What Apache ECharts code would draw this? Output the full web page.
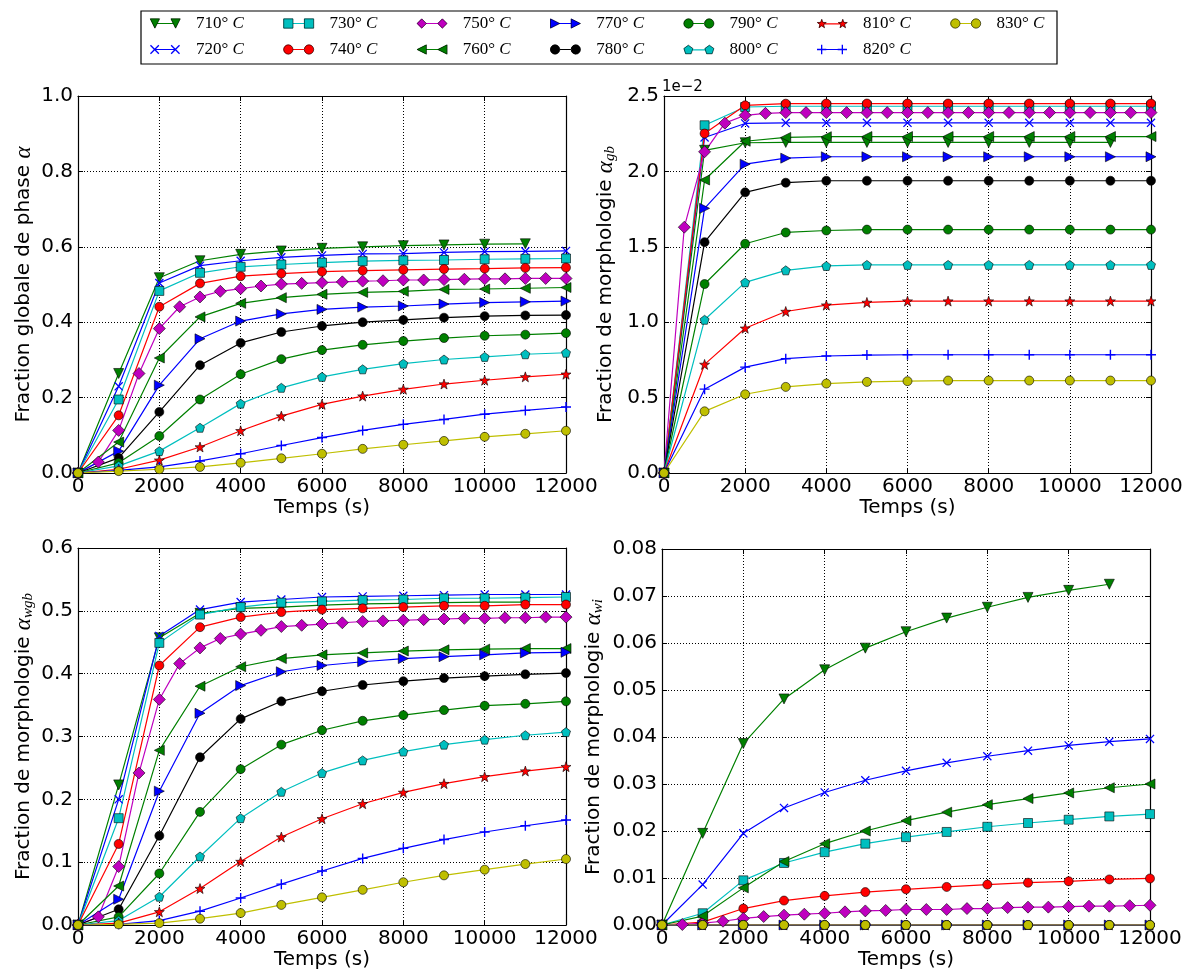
<!DOCTYPE html>
<html><head><meta charset="utf-8">
<script src="https://cdn.jsdelivr.net/npm/echarts@6/dist/echarts.min.js"></script>
<style>html,body{margin:0;padding:0;background:#fff}#c{width:1191px;height:973px}</style>
</head><body><div id="c"></div>
<script>
// ---------------- DATA ----------------
const temperatures = ['710°C','720°C','730°C','740°C','750°C','760°C','770°C','780°C','790°C','800°C','810°C','820°C','830°C'];
const timeFull = [0,1000,2000,3000,4000,5000,6000,7000,8000,9000,10000,11000,12000];
const time710  = [0,1000,2000,3000,4000,5000,6000,7000,8000,9000,10000,11000];
const time750  = [0,500,1000,1500,2000,2500,3000,3500,4000,4500,5000,5500,6000,6500,7000,7500,8000,8500,9000,9500,10000,10500,11000,11500,12000];
const xTicks = [0,2000,4000,6000,8000,10000,12000];

// Fraction globale de phase alpha (one row per temperature)
const alphaGlobal = [
  [0,0.264,0.518,0.563,0.580,0.589,0.596,0.600,0.603,0.605,0.607,0.608],
  [0,0.230,0.504,0.550,0.563,0.572,0.577,0.581,0.582,0.585,0.587,0.588,0.589],
  [0,0.195,0.483,0.531,0.547,0.553,0.558,0.562,0.564,0.565,0.567,0.568,0.569],
  [0,0.153,0.441,0.503,0.522,0.529,0.534,0.537,0.539,0.541,0.542,0.544,0.545],
  [0,0.029,0.113,0.264,0.383,0.441,0.467,0.482,0.489,0.496,0.501,0.503,0.505,0.507,0.509,0.510,0.512,0.512,0.513,0.514,0.515,0.515,0.516,0.516,0.516],
  [0,0.082,0.305,0.414,0.450,0.465,0.474,0.479,0.482,0.487,0.488,0.490,0.492],
  [0,0.058,0.233,0.356,0.403,0.422,0.434,0.440,0.443,0.448,0.452,0.454,0.456],
  [0,0.040,0.162,0.286,0.345,0.374,0.390,0.400,0.406,0.412,0.416,0.418,0.419],
  [0,0.027,0.098,0.195,0.262,0.302,0.326,0.340,0.350,0.358,0.364,0.367,0.371],
  [0,0.019,0.058,0.120,0.184,0.226,0.255,0.275,0.290,0.301,0.308,0.315,0.319],
  [0,0.010,0.034,0.069,0.112,0.151,0.182,0.204,0.222,0.236,0.246,0.255,0.262],
  [0,0.007,0.016,0.032,0.051,0.073,0.094,0.113,0.129,0.142,0.156,0.166,0.175],
  [0,0.005,0.010,0.016,0.027,0.039,0.051,0.064,0.075,0.085,0.096,0.104,0.112]
];
// Fraction de morphologie alpha_gb
const alphaGb = [
  [0,0.02140,0.02190,0.02192,0.02192,0.02192,0.02192,0.02192,0.02192,0.02192,0.02192,0.02192],
  [0,0.02225,0.02318,0.02322,0.02322,0.02322,0.02322,0.02322,0.02322,0.02322,0.02322,0.02322,0.02322],
  [0,0.02306,0.02427,0.02432,0.02432,0.02432,0.02432,0.02432,0.02432,0.02432,0.02432,0.02432,0.02432],
  [0,0.02251,0.02438,0.02449,0.02450,0.02450,0.02450,0.02450,0.02450,0.02450,0.02450,0.02450,0.02450],
  [0,0.01630,0.02130,0.02320,0.02372,0.02385,0.02390,0.02390,0.02390,0.02390,0.02390,0.02390,0.02390,0.02390,0.02390,0.02390,0.02390,0.02390,0.02390,0.02390,0.02390,0.02390,0.02390,0.02390,0.02390],
  [0,0.01943,0.02200,0.02225,0.02230,0.02231,0.02231,0.02231,0.02231,0.02231,0.02231,0.02231,0.02231],
  [0,0.01755,0.02048,0.02088,0.02097,0.02097,0.02097,0.02097,0.02097,0.02097,0.02097,0.02097,0.02097],
  [0,0.01531,0.01861,0.01925,0.01938,0.01938,0.01938,0.01938,0.01938,0.01938,0.01938,0.01938,0.01938],
  [0,0.01253,0.01520,0.01595,0.01608,0.01614,0.01614,0.01614,0.01614,0.01614,0.01614,0.01614,0.01614],
  [0,0.01016,0.01264,0.01344,0.01373,0.01380,0.01380,0.01380,0.01380,0.01380,0.01380,0.01380,0.01380],
  [0,0.00720,0.00960,0.01071,0.01113,0.01131,0.01140,0.01140,0.01140,0.01140,0.01140,0.01140,0.01140],
  [0,0.00556,0.00702,0.00758,0.00776,0.00782,0.00784,0.00784,0.00784,0.00784,0.00784,0.00784,0.00784],
  [0,0.00409,0.00522,0.00571,0.00593,0.00604,0.00609,0.00613,0.00613,0.00613,0.00613,0.00613,0.00613]
];
// Fraction de morphologie alpha_wgb
const alphaWgb = [
  [0,0.223,0.457,0.496,0.504,0.506,0.509,0.511,0.512,0.513,0.514,0.514],
  [0,0.200,0.460,0.502,0.514,0.518,0.522,0.523,0.524,0.525,0.526,0.526,0.526],
  [0,0.170,0.449,0.494,0.506,0.513,0.515,0.517,0.518,0.520,0.520,0.521,0.522],
  [0,0.129,0.413,0.474,0.490,0.498,0.502,0.504,0.506,0.508,0.508,0.510,0.510],
  [0,0.013,0.093,0.242,0.359,0.416,0.441,0.456,0.463,0.469,0.475,0.477,0.479,0.481,0.483,0.484,0.485,0.486,0.487,0.488,0.488,0.489,0.489,0.490,0.490],
  [0,0.062,0.278,0.380,0.411,0.424,0.430,0.433,0.436,0.438,0.439,0.440,0.440],
  [0,0.041,0.213,0.337,0.381,0.403,0.413,0.419,0.424,0.427,0.430,0.433,0.434],
  [0,0.025,0.142,0.267,0.328,0.356,0.372,0.382,0.388,0.393,0.396,0.399,0.401],
  [0,0.013,0.082,0.180,0.248,0.287,0.310,0.325,0.334,0.342,0.349,0.352,0.356],
  [0,0.007,0.045,0.109,0.170,0.212,0.242,0.262,0.276,0.287,0.295,0.302,0.307],
  [0,0.003,0.021,0.058,0.101,0.140,0.169,0.193,0.211,0.225,0.236,0.245,0.252],
  [0,0.001,0.007,0.022,0.043,0.065,0.086,0.106,0.122,0.136,0.148,0.158,0.167],
  [0,0.001,0.003,0.010,0.019,0.032,0.044,0.056,0.068,0.079,0.088,0.097,0.105]
];
// Fraction de morphologie alpha_wi
const alphaWi = [
  [0,0.0195,0.0386,0.0481,0.0543,0.0589,0.0624,0.0653,0.0676,0.0697,0.0712,0.0725],
  [0,0.0086,0.0195,0.0249,0.0282,0.0308,0.0328,0.0345,0.0359,0.0371,0.0382,0.0390,0.0396],
  [0,0.0025,0.0095,0.0132,0.0155,0.0173,0.0187,0.0198,0.0209,0.0217,0.0224,0.0231,0.0236],
  [0,0.0006,0.0035,0.0052,0.0062,0.0070,0.0076,0.0081,0.0086,0.0090,0.0093,0.0097,0.0099],
  [0,0.0001,0.0004,0.0008,0.0014,0.0018,0.0021,0.0023,0.0025,0.0028,0.0030,0.0031,0.0033,0.0033,0.0033,0.0035,0.0035,0.0037,0.0038,0.0038,0.0039,0.0040,0.0040,0.0041,0.0042],
  [0,0.0019,0.0079,0.0135,0.0173,0.0200,0.0222,0.0240,0.0256,0.0269,0.0281,0.0292,0.0300],
  [0,0,0,0,0,0,0,0,0,0,0,0,0],
  [0,0,0,0,0,0,0,0,0,0,0,0,0],
  [0,0,0,0,0,0,0,0,0,0,0,0,0],
  [0,0,0,0,0,0,0,0,0,0,0,0,0],
  [0,0,0,0,0,0,0,0,0,0,0,0,0],
  [0,0,0,0,0,0,0,0,0,0,0,0,0],
  [0,0,0,0,0,0,0,0,0,0,0,0,0]
];
const yTicksGlobal = [0,0.2,0.4,0.6,0.8,1.0];
const yTicksGb = [0,0.005,0.010,0.015,0.020,0.025];
const yTicksWgb = [0,0.1,0.2,0.3,0.4,0.5,0.6];
const yTicksWi = [0,0.01,0.02,0.03,0.04,0.05,0.06,0.07,0.08];

// ---------------- STYLE ----------------
const shapeFor = ['triDown','x','square','circle','diamond','triLeft','triRight','circle','circle','pentagon','star','plus','circle'];
const colorFor = ['#008000','#0000ff','#00bfbf','#ff0000','#bf00bf','#008000','#0000ff','#000000','#008000','#00bfbf','#ff0000','#0000ff','#bfbf00'];
const sizeFor = {triDown:10, triLeft:10, triRight:10, square:9, circle:9, diamond:12, pentagon:9, star:10, x:9, plus:10};
const timesFor = i => (i === 0 ? time710 : (i === 4 ? time750 : timeFull));

function shapePath(s, cx, cy, r) {
  const f = n => +n.toFixed(3);
  const P = pts => 'M' + pts.map(p => f(p[0]) + ',' + f(p[1])).join(' L') + ' Z';
  const polar = (ang, rad) => [cx + rad * Math.cos(ang * Math.PI / 180), cy + rad * Math.sin(ang * Math.PI / 180)];
  switch (s) {
    case 'triDown': return P([[cx-r,cy-r],[cx+r,cy-r],[cx,cy+r]]);
    case 'triLeft': return P([[cx-r,cy],[cx+r,cy-r],[cx+r,cy+r]]);
    case 'triRight': return P([[cx+r,cy],[cx-r,cy+r],[cx-r,cy-r]]);
    case 'square': return P([[cx-r,cy-r],[cx+r,cy-r],[cx+r,cy+r],[cx-r,cy+r]]);
    case 'diamond': return P([[cx,cy-r],[cx+r,cy],[cx,cy+r],[cx-r,cy]]);
    case 'circle': return `M${f(cx-r)},${f(cy)} A${f(r)},${f(r)} 0 1,0 ${f(cx+r)},${f(cy)} A${f(r)},${f(r)} 0 1,0 ${f(cx-r)},${f(cy)} Z`;
    case 'pentagon': return P([-90,-18,54,126,198].map(a => polar(a, r)));
    case 'star': {
      const pts = [];
      for (let k = 0; k < 10; k++) pts.push(polar(-90 + k * 36, k % 2 ? r * 0.4 : r));
      return P(pts);
    }
    case 'x': {
      const t = r * 0.2;
      return P([[cx-r,cy-r+t],[cx-r+t,cy-r],[cx+r,cy+r-t],[cx+r-t,cy+r]]) + ' ' +
             P([[cx+r-t,cy-r],[cx+r,cy-r+t],[cx-r+t,cy+r],[cx-r,cy+r-t]]);
    }
    case 'plus': {
      const t = r * 0.14;
      return P([[cx-t,cy-r],[cx+t,cy-r],[cx+t,cy-t],[cx+r,cy-t],[cx+r,cy+t],[cx+t,cy+t],[cx+t,cy+r],[cx-t,cy+r],[cx-t,cy+t],[cx-r,cy+t],[cx-r,cy-t],[cx-t,cy-t]]);
    }
  }
}
const noEdge = s => (s === 'x' || s === 'plus');

const panels = [
  {values: alphaGlobal, ticks: yTicksGlobal, fmt: v => v.toFixed(1), grid: {left:78, top:96, width:488, height:377},
   name: '{t|Fraction globale de phase }{a|α}', nameGap: 42},
  {values: alphaGb, ticks: yTicksGb, fmt: v => (v*100).toFixed(1), grid: {left:664, top:96, width:487, height:377},
   name: '{t|Fraction de morphologie }{a|α}{s|gb}', nameGap: 46},
  {values: alphaWgb, ticks: yTicksWgb, fmt: v => v.toFixed(1), grid: {left:78, top:548, width:488, height:377},
   name: '{t|Fraction de morphologie }{a|α}{s|wgb}', nameGap: 42},
  {values: alphaWi, ticks: yTicksWi, fmt: v => v.toFixed(2), grid: {left:662, top:549, width:488, height:376},
   name: '{t|Fraction de morphologie }{a|α}{s|wi}', nameGap: 56}
];

const tickFont = {color:'#000', fontFamily:'DejaVu Sans', fontSize:20};
const nameRich = {
  t: {fontFamily:'DejaVu Sans', fontSize:20, lineHeight:24, color:'#000'},
  a: {fontFamily:'Liberation Serif', fontStyle:'italic', fontSize:23, lineHeight:24, color:'#000'},
  s: {fontFamily:'Liberation Serif', fontStyle:'italic', fontSize:15, lineHeight:10, verticalAlign:'bottom', color:'#000'}
};
const gridDots = {show:true, lineStyle:{color:'#000', type:[1,2], width:1}};
const tickIn = {show:true, inside:true, length:5, lineStyle:{color:'#000', width:1}};
const frameLine = {show:true, onZero:false, lineStyle:{color:'#000', width:1.2}};

const grids = [], xAxes = [], yAxes = [], series = [];
panels.forEach((p, pi) => {
  grids.push(Object.assign({show:false}, p.grid));
  const ymin = p.ticks[0], ymax = p.ticks[p.ticks.length-1], yint = p.ticks[1]-p.ticks[0];
  const xmin = xTicks[0], xmax = xTicks[xTicks.length-1], xint = xTicks[1]-xTicks[0];
  xAxes[pi] = {type:'value', gridIndex:pi, position:'bottom', min:xmin, max:xmax, interval:xint,
    axisLine:frameLine, axisTick:tickIn, splitLine:gridDots,
    axisLabel:Object.assign({margin:4, showMinLabel:true, showMaxLabel:true, hideOverlap:false, formatter: v => String(v)}, tickFont),
    name:'Temps (s)', nameLocation:'middle', nameGap:24,
    nameTextStyle:{fontFamily:'DejaVu Sans', fontSize:20, color:'#000'}};
  xAxes[pi+4] = {type:'value', gridIndex:pi, position:'top', min:xmin, max:xmax, interval:xint,
    axisLine:frameLine, axisTick:tickIn, splitLine:{show:false}, axisLabel:{show:false}};
  yAxes[pi] = {type:'value', gridIndex:pi, position:'left', min:ymin, max:ymax, interval:yint,
    axisLine:frameLine, axisTick:tickIn, splitLine:gridDots,
    axisLabel:Object.assign({margin:5, showMinLabel:true, showMaxLabel:true, hideOverlap:false, formatter:p.fmt}, tickFont),
    name:p.name, nameLocation:'middle', nameGap:p.nameGap, nameRotate:90,
    nameTextStyle:{rich:nameRich}};
  yAxes[pi+4] = {type:'value', gridIndex:pi, position:'right', min:ymin, max:ymax, interval:yint,
    axisLine:frameLine, axisTick:tickIn, splitLine:{show:false}, axisLabel:{show:false}};

  temperatures.forEach((name, i) => {
    const ts = timesFor(i), vals = p.values[i];
    const shape = shapeFor[i];
    series.push({
      type:'line', name, xAxisIndex:pi, yAxisIndex:pi,
      data: ts.map((t, k) => [t, vals[k]]),
      symbol:'path://' + shapePath(shape, 5, 5, 5), symbolSize:sizeFor[shape], showAllSymbol:true,
      itemStyle:{color:colorFor[i], borderColor:'#000', borderWidth: noEdge(shape) ? 0 : 0.6},
      lineStyle:{color:colorFor[i], width:1.2},
      emphasis:{disabled:true}, animation:false
    });
  });
});

// legend (one legend per entry, laid out column-major like the original)
const legendRich = {
  sp: {width:11},
  n: {fontFamily:'Liberation Serif', fontSize:17},
  c: {fontFamily:'Liberation Serif', fontStyle:'italic', fontSize:17}
};
const legendFmt = name => `{sp|}{n|${name.slice(0,3)}° }{c|C}`;
const legends = [];
temperatures.forEach((name, i) => {
  const shape = shapeFor[i];
  const col = Math.floor(i / 2), row = i % 2;
  const left = 150 + col * 133.4, top = row ? 41 : 15;
  const full = 'path://' + shapePath(shape, 5, 5, 4.5) + ' M5,4.4 L25,4.4 L25,5.6 L5,5.6 Z ' + shapePath(shape, 25, 5, 4.5);
  const base = {data:[name], left, top, padding:0, itemWidth:30, itemHeight:10, selectedMode:false,
                formatter: legendFmt, orient:'horizontal'};
  legends.push(Object.assign({}, base, {icon: full, itemStyle:{borderWidth:0},
    textStyle:{color:'#000', rich:legendRich}}));
  if (!noEdge(shape)) {
    const marks = 'path://' + shapePath(shape, 5, 5, 4.5) + ' ' + shapePath(shape, 25, 5, 4.5);
    legends.push(Object.assign({}, base, {icon: marks, itemStyle:{borderColor:'#000', borderWidth:0.6},
      textStyle:{color:'rgba(0,0,0,0)', rich:legendRich}}));
  }
});

const chart = echarts.init(document.getElementById('c'), null, {renderer:'canvas'});
chart.setOption({
  backgroundColor:'#fff', animation:false,
  grid: grids, xAxis: xAxes, yAxis: yAxes, series, legend: legends,
  tooltip:{show:false},
  graphic: [
    {type:'rect', shape:{x:141, y:11, width:916, height:53}, style:{fill:'none', stroke:'#000', lineWidth:1.2}, z:10},
    {type:'text', left:662, top:80, style:{text:'1e\u22122', font:'15px "DejaVu Sans"', fill:'#000'}, z:10}
  ]
});
</script></body></html>
